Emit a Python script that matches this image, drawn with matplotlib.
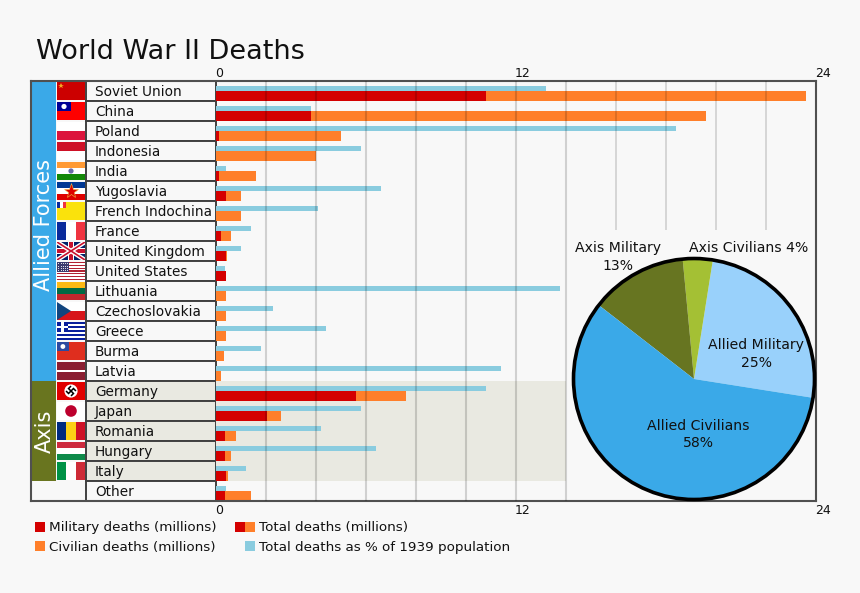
#!/usr/bin/env python3
import math
import matplotlib
matplotlib.use('Agg')
import matplotlib.pyplot as plt
from matplotlib.patches import Rectangle, Circle, Polygon
from matplotlib.transforms import ScaledTranslation

W, H = 860, 593
BG = '#f8f8f8'
RED = '#d40000'
ORANGE = '#ff7f2a'
CYAN = '#8accdf'
SHADE = '#e9e9e1'
ALLIED = '#3aa9e8'
AXIS = '#69751f'
EDGE = '#505050'

countries = ['Soviet Union', 'China', 'Poland', 'Indonesia', 'India', 'Yugoslavia',
             'French Indochina', 'France', 'United Kingdom', 'United States',
             'Lithuania', 'Czechoslovakia', 'Greece', 'Burma', 'Latvia',
             'Germany', 'Japan', 'Romania', 'Hungary', 'Italy', 'Other']
military = [10.8, 3.8, 0.12, 0, 0.12, 0.4, 0, 0.2, 0.4, 0.4,
            0, 0, 0, 0, 0, 5.6, 2.05, 0.35, 0.35, 0.4, 0.35]
civilian = [12.8, 15.8, 4.88, 4.0, 1.48, 0.6, 1.0, 0.4, 0.05, 0,
            0.4, 0.4, 0.4, 0.3, 0.2, 2.0, 0.55, 0.45, 0.25, 0.08, 1.05]
pct_pop = [13.2, 3.8, 18.4, 5.8, 0.4, 6.6, 4.1, 1.4, 1.0, 0.35,
           13.76, 2.3, 4.4, 1.8, 11.4, 10.8, 5.8, 4.2, 6.4, 1.2, 0.4]
axis_ticks = [0, 12, 24]
full_grid = [2, 4, 6, 8, 10, 12, 14]
short_grid = [16, 18, 20, 22]

pie_values = [25, 4, 13, 58]
pie_colors = ['#99d1fb', '#a4c034', '#677521', '#3aa9e8']

plt.rcParams['font.family'] = 'DejaVu Sans'
fig = plt.figure(figsize=(W / 100, H / 100), dpi=100, facecolor=BG)

# background layer in pixel coordinates, for the table, flags and legend
bg = fig.add_axes([0, 0, 1, 1], zorder=0)
bg.set_xlim(0, W)
bg.set_ylim(H, 0)
bg.axis('off')

FX0, FX1 = 57, 85


def frect(row, x0, y0, x1, y1, color, **kw):
    # x, y are fractions of the flag box
    top = 81 + 20 * row + 1
    p = Rectangle((FX0 + x0 * (FX1 - FX0), top + y0 * 18), (x1 - x0) * (FX1 - FX0), (y1 - y0) * 18,
                  facecolor=color, edgecolor='none', **kw)
    bg.add_patch(p)
    return p


def fpt(row, x, y):
    return FX0 + x * (FX1 - FX0), 81 + 20 * row + 1 + y * 18


def hbands(row, cols):
    for i, c in enumerate(cols):
        frect(row, 0, i / len(cols), 1, (i + 1) / len(cols), c)


def vbands(row, cols):
    for i, c in enumerate(cols):
        frect(row, i / len(cols), 0, (i + 1) / len(cols), 1, c)


def fcircle(row, x, y, r, color):
    bg.add_patch(Circle(fpt(row, x, y), r, facecolor=color, edgecolor='none'))


def draw_flags():
    # Soviet Union
    frect(0, 0, 0, 1, 1, '#cc0000')
    x, y = fpt(0, 0.16, 0.22)
    bg.plot([x], [y], marker='*', ms=4, color='#f5a623', mew=0)
    # China
    frect(1, 0, 0, 1, 1, '#fe0000')
    frect(1, 0, 0, 0.5, 0.5, '#000095')
    fcircle(1, 0.25, 0.25, 2.6, 'white')
    # Poland, Indonesia
    hbands(2, ['white', '#dc143c'])
    hbands(3, ['#ce1126', 'white'])
    # India
    hbands(4, ['#ff9933', 'white', '#138808'])
    fcircle(4, 0.5, 0.5, 2.6, '#6a6aa8')
    # Yugoslavia
    hbands(5, ['#003893', 'white', '#de0000'])
    x, y = fpt(5, 0.5, 0.5)
    bg.plot([x], [y], marker='*', ms=11, color='#de0000', mec='#f0c040', mew=0.4)
    # French Indochina
    frect(6, 0, 0, 1, 1, '#fae20c')
    for i, c in enumerate(['#0a2a9b', 'white', '#ef3340']):
        frect(6, i * 0.11, 0, (i + 1) * 0.11, 0.36, c)
    # France
    vbands(7, ['#0a2a9b', 'white', '#ef3340'])
    # United Kingdom
    clip = frect(8, 0, 0, 1, 1, '#012169')
    xa, ya = fpt(8, 0, 0)
    xb, yb = fpt(8, 1, 1)
    for lw, c in [(3.2, 'white'), (1.2, '#c8102e')]:
        for xs, ys in [([xa, xb], [ya, yb]), ([xa, xb], [yb, ya])]:
            ln, = bg.plot(xs, ys, color=c, lw=lw, solid_capstyle='butt')
            ln.set_clip_path(clip)
    frect(8, 0, 0.33, 1, 0.67, 'white')
    frect(8, 0.4, 0, 0.6, 1, 'white')
    frect(8, 0, 0.4, 1, 0.6, '#c8102e')
    frect(8, 0.44, 0, 0.56, 1, '#c8102e')
    # United States
    hbands(9, ['#b22234' if i % 2 == 0 else 'white' for i in range(13)])
    frect(9, 0, 0, 0.42, 7 / 13, '#3c3b6e')
    for i in range(5):
        for j in range(4):
            x, y = fpt(9, 0.05 + i * 0.08, 0.07 + j * 0.13)
            bg.plot([x], [y], marker='.', ms=1.5, color='white', mew=0)
    # Lithuania
    hbands(10, ['#fdb913', '#006a44', '#c1272d'])
    # Czechoslovakia
    hbands(11, ['white', '#d7141a'])
    bg.add_patch(Polygon([fpt(11, 0, 0), fpt(11, 0.5, 0.5), fpt(11, 0, 1)], facecolor='#11457e', edgecolor='none'))
    # Greece
    hbands(12, ['#0a1f9c' if i % 2 == 0 else 'white' for i in range(9)])
    frect(12, 0, 0, 0.4, 5 / 9, '#0a1f9c')
    frect(12, 0, 2 / 9, 0.4, 3 / 9, 'white')
    frect(12, 0.15, 0, 0.25, 5 / 9, 'white')
    # Burma
    frect(13, 0, 0, 1, 1, '#df2e1e')
    frect(13, 0, 0, 0.43, 0.5, '#2d4aa0')
    fcircle(13, 0.21, 0.25, 2.4, 'white')
    # Latvia
    frect(14, 0, 0, 1, 1, '#8a1e31')
    frect(14, 0, 0.42, 1, 0.58, 'white')
    # Germany
    frect(15, 0, 0, 1, 1, '#e00000')
    fcircle(15, 0.5, 0.5, 6.6, 'white')
    cx, cy = fpt(15, 0.5, 0.5)
    a = 3.5
    c45 = math.cos(math.radians(45))
    for k in range(4):
        t = math.radians(45 + 90 * k)
        pts = [(0, 0), (0, -a), (a, -a)]
        xs = [cx + px * math.cos(t) - py * math.sin(t) for px, py in pts]
        ys = [cy + px * math.sin(t) + py * math.cos(t) for px, py in pts]
        bg.plot(xs, ys, color='black', lw=1.1, solid_capstyle='butt', solid_joinstyle='miter')
    # Japan
    frect(16, 0, 0, 1, 1, 'white')
    fcircle(16, 0.5, 0.5, 5.8, '#bc002d')
    # Romania, Hungary, Italy
    vbands(17, ['#002b7f', '#fcd116', '#ce1126'])
    hbands(18, ['#cd2a3e', 'white', '#0e8a4a'])
    vbands(19, ['#009246', 'white', '#ce2b37'])


# sidebars
bg.add_patch(Rectangle((31, 81), 25, 300, facecolor=ALLIED, edgecolor='none'))
bg.add_patch(Rectangle((31, 381), 25, 100, facecolor=AXIS, edgecolor='none'))
bg.text(44.5, 225, 'Allied Forces', color='white', fontsize=15, rotation=90, ha='center', va='center')
bg.text(44.5, 431, 'Axis', color='white', fontsize=15, rotation=90, ha='center', va='center')

draw_flags()

# country cells
for i, name in enumerate(countries):
    shaded = 15 <= i < 20
    bg.add_patch(Rectangle((86, 81 + 20 * i), 130, 20, facecolor=SHADE if shaded else BG,
                           edgecolor='#404040', lw=1.4))
    bg.text(95, 92 + 20 * i, name, fontsize=9.8, color='#111111', ha='left', va='center')

# title
bg.text(36, 52, 'World War II Deaths', fontsize=19.5, color='#111111', ha='left', va='center')

# legend
bg.add_patch(Rectangle((35, 522), 10, 10, facecolor=RED, edgecolor='none'))
bg.text(49, 527, 'Military deaths (millions)', fontsize=9.7, color='#111111', va='center')
bg.add_patch(Rectangle((235, 522), 10, 10, facecolor=RED, edgecolor='none'))
bg.add_patch(Rectangle((245, 522), 10, 10, facecolor=ORANGE, edgecolor='none'))
bg.text(259, 527, 'Total deaths (millions)', fontsize=9.7, color='#111111', va='center')
bg.add_patch(Rectangle((35, 541), 10, 10, facecolor=ORANGE, edgecolor='none'))
bg.text(49, 547, 'Civilian deaths (millions)', fontsize=9.7, color='#111111', va='center')
bg.add_patch(Rectangle((245, 541), 10, 10, facecolor=CYAN, edgecolor='none'))
bg.text(259, 547, 'Total deaths as % of 1939 population', fontsize=9.7, color='#111111', va='center')

# main bars, in data units: x is millions, y is the row number
ax = fig.add_axes([31 / W, (H - 501) / H, 785 / W, 420 / H], zorder=1)
ax.patch.set_alpha(0)
ax.set_xlim(-7.4, 24)
ax.set_ylim(21, 0)
ax.axvspan(0, 14, ymin=1 - 20 / 21, ymax=1 - 15 / 21, facecolor=SHADE, edgecolor='none', zorder=1)

rows = list(range(len(countries)))
ax.barh([r + 0.375 for r in rows], pct_pop, height=0.25, color=CYAN, zorder=2)
ax.barh([r + 0.75 for r in rows], military, height=0.5, color=RED, zorder=2)
ax.barh([r + 0.75 for r in rows], civilian, height=0.5, left=military, color=ORANGE, zorder=2)

ax.vlines(full_grid, 0, 21, color='black', alpha=0.16, lw=1.5, zorder=3)
ax.vlines(short_grid, 0, 7.45, color='black', alpha=0.16, lw=1.2, zorder=3)

ax.set_yticks([])
ax.set_xticks(axis_ticks)
ax.set_xticklabels([str(t) for t in axis_ticks], ha='left')
ax.tick_params(axis='x', length=0, labelsize=9, pad=2, labelcolor='#111111')

top = ax.secondary_xaxis('top')
top.set_xticks(axis_ticks)
top.set_xticklabels([str(t) for t in axis_ticks], ha='left')
top.tick_params(axis='x', length=0, labelsize=9, pad=1, labelcolor='#111111')
top.spines['top'].set_visible(False)

# labels sit a little left of plain left alignment
nudge = ScaledTranslation(-1 / 100, 0, fig.dpi_scale_trans)
for label in ax.get_xticklabels() + top.get_xticklabels():
    label.set_transform(label.get_transform() + nudge)

for spine in ax.spines.values():
    spine.set_color(EDGE)
    spine.set_linewidth(1.5)

# pie
R = 120.5
pax = fig.add_axes([(694 - R) / W, (H - 379 - R) / H, 2 * R / W, 2 * R / H], zorder=2)
pax.pie(pie_values, colors=pie_colors, startangle=-9, radius=1,
        wedgeprops=dict(linewidth=0), frame=False)
pax.set_xlim(-1, 1)
pax.set_ylim(-1, 1)
pax.add_patch(Circle((0, 0), 1, fill=False, edgecolor='black', lw=2.6, clip_on=False))

tax = fig.add_axes([0, 0, 1, 1], zorder=3)
tax.set_xlim(0, W)
tax.set_ylim(H, 0)
tax.axis('off')
for x, y, s in [(618, 257, 'Axis Military\n13%'), (748.5, 248, 'Axis Civilians 4%'),
                (756, 354, 'Allied Military\n25%'), (698, 434.5, 'Allied Civilians\n58%')]:
    tax.text(x, y, s, fontsize=10.05, color='#111111', ha='center', va='center', linespacing=1.3)

fig.savefig('out.png', dpi=100, facecolor=BG)
